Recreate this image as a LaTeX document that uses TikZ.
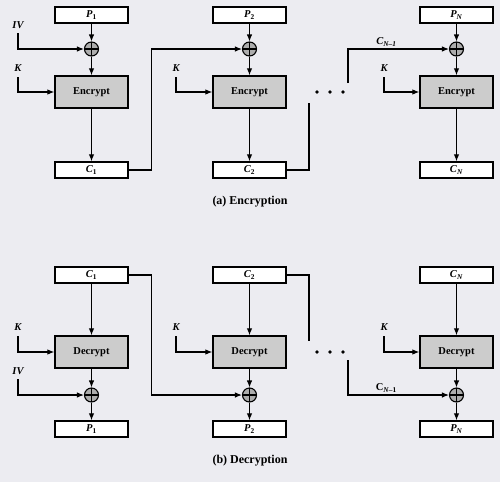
\documentclass[tikz,border=0pt]{standalone}
\usepackage{fontspec}
\setmainfont{Liberation Serif}
\usetikzlibrary{arrows.meta}
\definecolor{paper}{RGB}{236,236,241}
\definecolor{boxgray}{RGB}{204,204,204}
\newcommand{\sym}[2]{\textbf{\textit{#1}\textsubscript{#2}}}

\tikzset{
  blk/.style={draw,line width=1.3pt,fill=white,minimum width=73pt,minimum height=16pt,inner sep=0pt,font=\fontsize{10.5}{12}\selectfont},
  cipher/.style={draw,line width=1.3pt,fill=boxgray,minimum width=73pt,minimum height=32pt,inner sep=0pt,font=\fontsize{10.5}{12}\selectfont\bfseries},
  xor/.style={draw,line width=1.1pt,circle,fill=boxgray!85!black,minimum size=14pt,inner sep=0pt,
    path picture={\draw[line width=1.1pt] (path picture bounding box.north)--(path picture bounding box.south)
      (path picture bounding box.west)--(path picture bounding box.east);}},
  lbl/.style={font=\fontsize{10.5}{12}\selectfont\bfseries\itshape,inner sep=1pt},
  wire/.style={line width=1.1pt},
  arr/.style={->,line width=1.1pt}
}

\begin{document}
\begin{tikzpicture}[>={Latex[length=7pt,width=5.5pt]},x=1pt,y=-1pt]
  \fill[paper] (0,0) rectangle (500,482);
  \useasboundingbox (0,0) rectangle (500,482);
  % (a) Encryption
  \begin{scope}
    \node[blk] (p1) at (91.5,15) {\sym{P}{1}};
    \node[blk] (p2) at (249.5,15) {\sym{P}{2}};
    \node[blk] (pN) at (456.5,15) {\sym{P}{\textit{N}}};
    \node[xor] (x1) at (91.5,49) {}; \node[xor] (x2) at (249.5,49) {}; \node[xor] (xN) at (456.5,49) {};
    \node[cipher] (e1) at (91.5,92) {Encrypt};
    \node[cipher] (e2) at (249.5,92) {Encrypt};
    \node[cipher] (eN) at (456.5,92) {Encrypt};
    \node[blk] (c1) at (91.5,170) {\sym{C}{1}};
    \node[blk] (c2) at (249.5,170) {\sym{C}{2}};
    \node[blk] (cN) at (456.5,170) {\sym{C}{\textit{N}}};
    \node[lbl] (iv) at (18,25) {IV}; \coordinate (ivs) at (18,33);
    \node[lbl] (k1) at (18,68) {K}; \coordinate (k1s) at (18,77);
    \node[lbl] (k2) at (176,68) {K}; \coordinate (k2s) at (176,77);
    \node[lbl] (kN) at (384,68) {K}; \coordinate (kNs) at (384,77);
    \draw[arr] (p1) -- (x1); \draw[arr] (x1) -- (e1); \draw[arr] (e1) -- (c1);
    \draw[arr] (p2) -- (x2); \draw[arr] (x2) -- (e2); \draw[arr] (e2) -- (c2);
    \draw[arr] (pN) -- (xN); \draw[arr] (xN) -- (eN); \draw[arr] (eN) -- (cN);
    \draw[arr] (ivs) |- (x1); \draw[arr] (k1s) |- (e1);
    \draw[arr] (k2s) |- (e2); \draw[arr] (kNs) |- (eN);
    \draw[arr] (c1.east) -- ++(23,0) |- (x2);
    \coordinate (gapa) at (309,103); \draw[wire] (c2.east) -| (gapa);
    \coordinate (gapb) at (348,83);
    \draw[arr] (gapb) |- (xN) node[lbl,pos=0.69,above=1pt] (cprev) {\sym{C}{\textit{N}--1}};
    \foreach \i in {0,1,2} \fill (317+13*\i,92) circle (1.9);
    \node[font=\fontsize{12}{14}\selectfont\bfseries] (capa) at (250,202) {(a) Encryption};
  \end{scope}
  % (b) Decryption
  \begin{scope}
    \node[blk] (dc1) at (91.5,275) {\sym{C}{1}};
    \node[blk] (dc2) at (249.5,275) {\sym{C}{2}};
    \node[blk] (dcN) at (456.5,275) {\sym{C}{\textit{N}}};
    \node[cipher] (d1) at (91.5,352) {Decrypt};
    \node[cipher] (d2) at (249.5,352) {Decrypt};
    \node[cipher] (dN) at (456.5,352) {Decrypt};
    \node[xor] (dx1) at (91.5,395) {}; \node[xor] (dx2) at (249.5,395) {}; \node[xor] (dxN) at (456.5,395) {};
    \node[blk] (dp1) at (91.5,429) {\sym{P}{1}};
    \node[blk] (dp2) at (249.5,429) {\sym{P}{2}};
    \node[blk] (dpN) at (456.5,429) {\sym{P}{\textit{N}}};
    \node[lbl] (dk1) at (18,327) {K}; \coordinate (dk1s) at (18,336);
    \node[lbl] (dk2) at (176,327) {K}; \coordinate (dk2s) at (176,336);
    \node[lbl] (dkN) at (384,327) {K}; \coordinate (dkNs) at (384,336);
    \node[lbl] (div) at (18,371) {IV}; \coordinate (divs) at (18,379);
    \draw[arr] (dc1) -- (d1); \draw[arr] (d1) -- (dx1); \draw[arr] (dx1) -- (dp1);
    \draw[arr] (dc2) -- (d2); \draw[arr] (d2) -- (dx2); \draw[arr] (dx2) -- (dp2);
    \draw[arr] (dcN) -- (dN); \draw[arr] (dN) -- (dxN); \draw[arr] (dxN) -- (dpN);
    \draw[arr] (dk1s) |- (d1); \draw[arr] (dk2s) |- (d2); \draw[arr] (dkNs) |- (dN);
    \draw[arr] (divs) |- (dx1);
    \draw[arr] (dc1.east) -- ++(23,0) |- (dx2);
    \coordinate (gapc) at (309,341); \draw[wire] (dc2.east) -| (gapc);
    \coordinate (gapd) at (348,360);
    \draw[arr] (gapd) |- (dxN) node[pos=0.69,above=1pt,font=\fontsize{10.5}{12}\selectfont\bfseries,inner sep=1pt] (dcprev) {C\textsubscript{\textit{N}--1}};
    \foreach \i in {0,1,2} \fill (317+13*\i,352) circle (1.9);
    \node[font=\fontsize{12}{14}\selectfont\bfseries] (capb) at (250,461) {(b) Decryption};
  \end{scope}
\end{tikzpicture}
\end{document}
